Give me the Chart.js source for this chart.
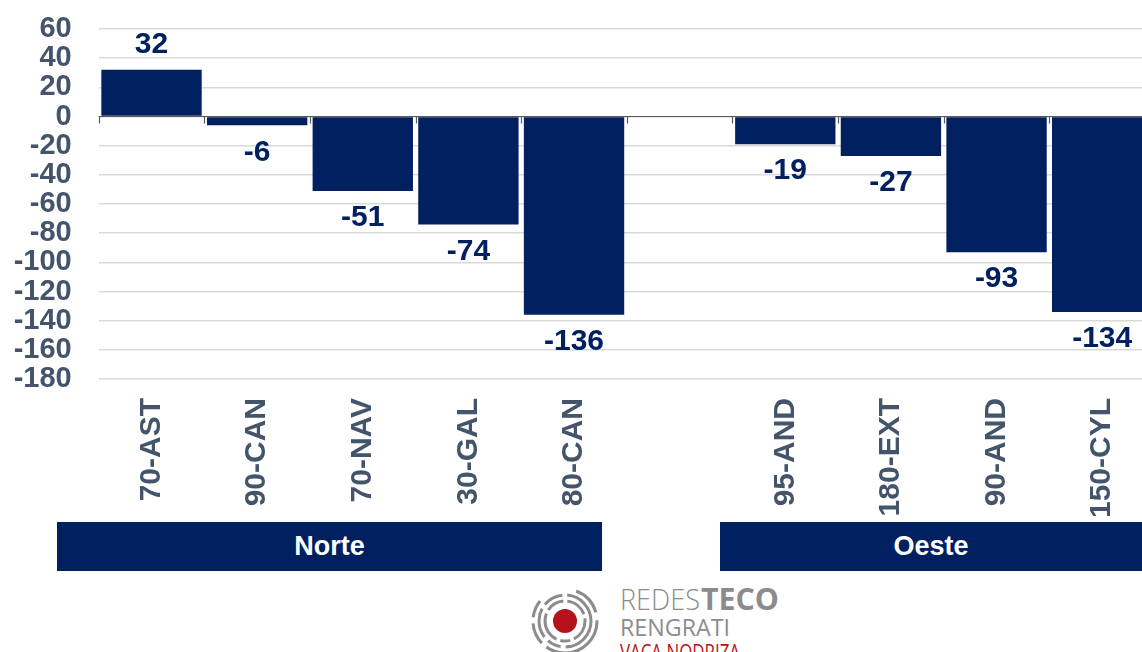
<!DOCTYPE html>
<html lang="es">
<head>
    <meta charset="UTF-8">
    <title>Desviación por zona</title>
    <script src="https://cdn.jsdelivr.net/npm/chart.js"></script>
    <style>
        html, body { margin: 0; padding: 0; background: #fff; overflow: hidden; }
        .page { position: relative; width: 1142px; height: 652px; overflow: hidden; }
        .chart-box { position: absolute; left: 0; top: 0; width: 1155px; height: 530px; }
        .group { position: absolute; top: 522px; height: 49px; background: #002060; color: #fff;
                 font: bold 27px "Liberation Sans", Arial, sans-serif; display: flex;
                 align-items: center; justify-content: center; }
        .logo { position: absolute; left: 520px; top: 580px; }
    </style>
</head>
<body>
<div class="page">
    <div class="chart-box"><canvas id="chart"></canvas></div>
    <div class="group" style="left:57px; width:545px;">Norte</div>
    <div class="group" style="left:720px; width:440px; padding-right:18px; box-sizing:border-box;">Oeste</div>

    <svg class="logo" width="300" height="72" viewBox="0 0 300 72">
        <g fill="none" stroke="#8c8c8c" stroke-width="3">
            <circle cx="45" cy="41" r="20" stroke-dasharray="22 4 10 4 30 4 18 4"/>
            <circle cx="45" cy="41" r="26" stroke-dasharray="40 5 14 5 30 5 20 5"/>
            <circle cx="45" cy="41" r="32" stroke-dasharray="70 6 22 6 18 40 30 8"/>
        </g>
        <circle cx="45" cy="41" r="12" fill="#b5121b"/>
        <text x="100" y="30" font-family="Open Sans, sans-serif" font-size="30" font-weight="300" fill="#8c8c8c" textLength="80" lengthAdjust="spacingAndGlyphs">REDES</text>
        <text x="181" y="30" font-family="Open Sans, sans-serif" font-size="30" font-weight="700" fill="#8c8c8c" textLength="78" lengthAdjust="spacingAndGlyphs">TECO</text>
        <text x="100" y="56" font-family="Open Sans, sans-serif" font-size="24" font-weight="400" fill="#8c8c8c" textLength="110" lengthAdjust="spacingAndGlyphs">RENGRATI</text>
        <text x="100" y="80" font-family="Open Sans, sans-serif" font-size="21" font-weight="400" fill="#b5121b" textLength="120" lengthAdjust="spacingAndGlyphs">VACA NODRIZA</text>
    </svg>
</div>

<script>
    // Datos del gráfico
    const categories = ['70-AST', '90-CAN', '70-NAV', '30-GAL', '80-CAN', '', '95-AND', '180-EXT', '90-AND', '150-CYL'];
    const values = [32, -6, -51, -74, -136, null, -19, -27, -93, -134];
    const yMin = -180;
    const yMax = 60;
    const yStep = 20;

    const NAVY = '#002060';
    const SLATE = '#44546A';
    const FONT = '"Liberation Sans", Arial, sans-serif';

    // Zero line with small tick marks at category boundaries + value labels
    const zeroAndLabels = {
        id: 'zeroAndLabels',
        afterDatasetsDraw(chart) {
            const ctx = chart.ctx;
            const y = chart.scales.y;
            const area = chart.chartArea;
            const y0 = y.getPixelForValue(0);
            const slot = (area.right - area.left) / categories.length;

            ctx.save();
            ctx.strokeStyle = '#595959';
            ctx.lineWidth = 1.2;
            ctx.beginPath();
            ctx.moveTo(area.left, y0);
            ctx.lineTo(area.right, y0);
            for (let i = 0; i <= categories.length; i++) {
                const px = Math.round(area.left + i * slot) + 0.5;
                ctx.moveTo(px, y0);
                ctx.lineTo(px, y0 + 7);
            }
            ctx.stroke();

            ctx.fillStyle = NAVY;
            ctx.font = 'bold 30px ' + FONT;
            ctx.textAlign = 'center';
            chart.getDatasetMeta(0).data.forEach((bar, i) => {
                const v = values[i];
                if (v === null) return;
                if (v >= 0) {
                    ctx.textBaseline = 'bottom';
                    ctx.fillText(String(v), bar.x, bar.y - 10);
                } else {
                    ctx.textBaseline = 'top';
                    ctx.fillText(String(v), bar.x, bar.y + 12);
                }
            });
            ctx.restore();
        }
    };

    new Chart(document.getElementById('chart'), {
        type: 'bar',
        data: {
            labels: categories,
            datasets: [{
                data: values,
                backgroundColor: NAVY,
                borderWidth: 0,
                barPercentage: 0.95,
                categoryPercentage: 1
            }]
        },
        options: {
            responsive: true,
            maintainAspectRatio: false,
            animation: false,
            layout: { padding: { top: 29, left: 10, right: 0, bottom: 0 } },
            plugins: {
                legend: { display: false },
                tooltip: { enabled: false }
            },
            scales: {
                x: {
                    grid: { display: false },
                    border: { display: false },
                    ticks: {
                        color: SLATE,
                        font: { family: FONT, size: 30, weight: 'bold' },
                        minRotation: 90,
                        maxRotation: 90,
                        autoSkip: false,
                        padding: 11
                    },
                    afterFit(scale) { scale.height = 151; }
                },
                y: {
                    min: yMin,
                    max: yMax,
                    grid: { color: '#d9d9d9', lineWidth: 1.5, drawTicks: false },
                    border: { display: false },
                    ticks: {
                        stepSize: yStep,
                        autoSkip: false,
                        color: SLATE,
                        font: { family: FONT, size: 29, weight: 'bold', lineHeight: 1 },
                        padding: 27
                    },
                    afterFit(scale) {
                        scale.width = 88.7;
                        scale.paddingTop = 0;
                        scale.paddingBottom = 0;
                    }
                }
            }
        },
        plugins: [zeroAndLabels]
    });
</script>
</body>
</html>
